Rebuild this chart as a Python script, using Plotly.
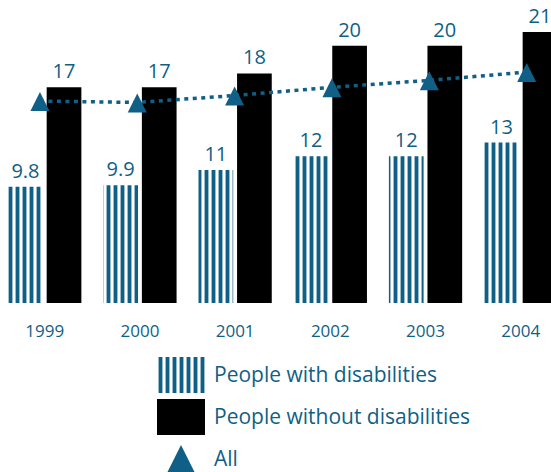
import plotly.graph_objects as go

years = ["1999", "2000", "2001", "2002", "2003", "2004"]
with_dis = [9.8, 9.9, 11, 12, 12, 13]
without_dis = [17, 17, 18, 20, 20, 21]
all_people = [16.0, 15.9, 16.4, 17.0, 17.5, 18.1]
legend_labels = ["People with disabilities", "People without disabilities", "All"]

TEAL = "#0f5f86"
FONT = "Open Sans"
W, H = 551, 472

PATTERN = dict(shape="|", fgcolor=TEAL, bgcolor="white",
               size=7, solidity=0.55, fillmode="replace")

fig = go.Figure()

fig.add_trace(go.Bar(
    x=years, y=with_dis, name=legend_labels[0],
    marker=dict(color="white", line=dict(width=0), pattern=PATTERN),
    text=[f"{v:g}" for v in with_dis], textposition="outside",
    textfont=dict(family=FONT, size=20, color=TEAL), cliponaxis=False,
    xaxis="x", yaxis="y",
))
fig.add_trace(go.Bar(
    x=years, y=without_dis, name=legend_labels[1],
    marker=dict(color="black", line=dict(width=0)),
    text=[f"{v:g}" for v in without_dis], textposition="outside",
    textfont=dict(family=FONT, size=20, color=TEAL), cliponaxis=False,
    xaxis="x", yaxis="y",
))
# dotted line for "All"
fig.add_trace(go.Scatter(
    x=years, y=all_people, name=legend_labels[2], mode="lines",
    line=dict(color=TEAL, width=3.5, dash="4px,4.5px"),
    cliponaxis=False, xaxis="x2", yaxis="y",
))
# triangle markers for "All" (same data, axis nudged so the triangle straddles the line)
fig.add_trace(go.Scatter(
    x=years, y=all_people, mode="markers", showlegend=False,
    marker=dict(symbol="arrow-up", size=19, color=TEAL),
    cliponaxis=False, xaxis="x2", yaxis="y4",
))

# custom legend drawn on its own small axes
fig.add_trace(go.Bar(
    y=[legend_labels[0]], x=[1], orientation="h", width=0.86, offsetgroup="leg",
    marker=dict(color="white", line=dict(width=0), pattern=PATTERN),
    xaxis="x3", yaxis="y3", hoverinfo="skip",
))
fig.add_trace(go.Bar(
    y=[legend_labels[1]], x=[1], orientation="h", width=0.86, offsetgroup="leg",
    marker=dict(color="black", line=dict(width=0)),
    xaxis="x3", yaxis="y3", hoverinfo="skip",
))
fig.add_trace(go.Scatter(
    y=[legend_labels[2]], x=[0.5], mode="markers",
    marker=dict(symbol="arrow-up", size=28, color=TEAL),
    cliponaxis=False, xaxis="x3", yaxis="y5", hoverinfo="skip",
))

fig.update_layout(
    width=W, height=H, margin=dict(l=0, r=0, t=0, b=0),
    paper_bgcolor="white", plot_bgcolor="white", showlegend=False,
    barmode="group", bargap=0.19, bargroupgap=0.1,
    font=dict(family=FONT, color=TEAL),
    xaxis=dict(domain=[0, 1], type="category", range=[-0.470, 5.318],
               showgrid=False, zeroline=False, showline=False, ticks="",
               tickfont=dict(family=FONT, size=17, color=TEAL),
               ticklabelstandoff=16, anchor="y"),
    xaxis2=dict(domain=[0, 1], type="category", range=[-0.41, 5.25],
                overlaying="x", visible=False, anchor="y"),
    yaxis=dict(domain=[(H - 303) / H, 1], range=[1.376, 23.32], visible=False),
    yaxis4=dict(domain=[(H - 303) / H, 1], range=[0.724, 22.668],
                overlaying="y", visible=False, anchor="x2"),
    xaxis3=dict(domain=[157 / W, 205 / W], range=[0, 1], visible=False,
                anchor="y3"),
    yaxis3=dict(domain=[0, (H - 354) / H], type="category",
                categoryorder="array", categoryarray=legend_labels,
                range=[2.31, -0.5], side="right", anchor="x3",
                showgrid=False, zeroline=False, showline=False, ticks="",
                tickfont=dict(family=FONT, size=21, color=TEAL),
                ticklabelstandoff=8),
    yaxis5=dict(domain=[0, (H - 354) / H], type="category",
                categoryorder="array", categoryarray=legend_labels,
                range=[2.643, -0.167], overlaying="y3", visible=False,
                anchor="x3"),
)

fig.write_html(
    "out.html",
    config={"displayModeBar": False},
    post_script="document.body.style.margin='0';document.body.style.padding='0';"
                "document.documentElement.style.overflow='hidden';",
)
